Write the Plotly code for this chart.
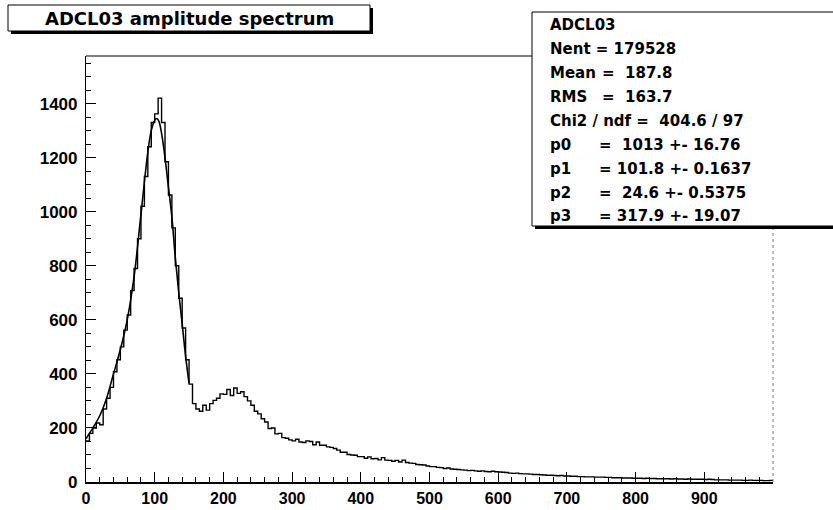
import numpy as np
import plotly.graph_objects as go

# ---------------- data ----------------
BIN_START = 0
BIN_WIDTH = 5
counts = [
    152, 180, 200, 218, 212, 270, 310, 350, 408, 452,    # 0-45
    500, 562, 618, 708, 790, 900, 1020, 1130, 1240, 1330,  # 50-95
    1362, 1420, 1330, 1185, 1062, 940, 800, 680, 570, 452,  # 100-145
    362, 290, 270, 262, 284, 266, 290, 302, 310, 326,     # 150-195
    324, 342, 320, 348, 328, 334, 316, 300, 284, 262,     # 200-245
    252, 234, 222, 198, 200, 178, 180, 164, 162, 156,     # 250-295
    152, 158, 148, 146, 152, 150, 138, 148, 136, 136,     # 300-345
    130, 128, 124, 118, 110, 110, 102, 100, 99, 94,       # 350-395
    94, 88, 93, 86, 87, 82, 90, 81, 80, 77,               # 400-445
    80, 74, 81, 72, 70, 69, 65, 64, 63, 59,               # 450-495
    57, 57, 54, 53, 50, 52, 48, 47, 46, 45,               # 500-545
    44, 42, 43, 41, 40, 41, 39, 38, 40, 38,               # 550-595
    37, 36, 35, 33, 32, 33, 31, 30, 30, 29,               # 600-645
    28, 28, 27, 26, 25, 25, 24, 23, 24, 22,               # 650-695
    22, 21, 21, 20, 20, 19, 19, 19, 18, 18,               # 700-745
    18, 17, 17, 16, 16, 16, 15, 15, 15, 14,               # 750-795
    14, 14, 13, 14, 13, 13, 12, 12, 12, 12,               # 800-845
    11, 12, 11, 11, 10, 11, 10, 10, 10, 10,               # 850-895
    9, 10, 9, 8, 8, 8, 8, 7, 7, 7,                        # 900-945
    7, 6, 6, 7, 6, 6, 6, 5, 5, 6,                         # 950-995
]

fit_x = [0, 10, 20, 30, 40, 50, 60, 70, 80, 90, 95, 100, 103, 106, 110,
         115, 120, 125, 130, 135, 140, 145, 150]
fit_y = [160, 200, 245, 310, 400, 490, 600, 760, 990, 1220, 1300, 1338, 1345,
         1335, 1290, 1200, 1090, 980, 830, 700, 585, 465, 365]

x_tick_vals = [0, 100, 200, 300, 400, 500, 600, 700, 800, 900]
y_tick_vals = [0, 200, 400, 600, 800, 1000, 1200, 1400]

title_text = "ADCL03 amplitude spectrum"
stats_name = "ADCL03"
stats_rows = [
    ("Nent = 179528", ""),
    ("Mean", "=  187.8"),
    ("RMS", "=  163.7"),
    ("Chi2 / ndf =  404.6 / 97", ""),
    ("p0", "=  1013 +- 16.76"),
    ("p1", "= 101.8 +- 0.1637"),
    ("p2", "=  24.6 +- 0.5375"),
    ("p3", "= 317.9 +- 19.07"),
]

X_RANGE = [0, 1000]
Y_RANGE = [0, 1576]

# ---------------- layout geometry (pixels) ----------------
W, H = 833, 510
L, R, T, B = 86, 60, 56, 28
PW, PH = W - L - R, H - T - B


def px(x):
    return (x - L) / PW


def py(y):
    return (H - B - y) / PH


# step outline of histogram
edges = BIN_START + BIN_WIDTH * np.arange(len(counts) + 1)
hx = list(edges)
hy = list(counts) + [counts[-1]]

fig = go.Figure()
fig.add_trace(go.Scatter(x=hx, y=hy, mode="lines", line=dict(color="black", width=1.4, shape="hv"),
                         showlegend=False, hoverinfo="skip"))
fig.add_trace(go.Scatter(x=fit_x, y=fit_y, mode="lines",
                         line=dict(color="black", width=1.6, shape="spline"),
                         showlegend=False, hoverinfo="skip"))

tickfont = dict(family="Liberation Sans, Arial", size=17, color="black", weight="bold")
xtickfont = dict(family="Liberation Sans, Arial", size=16, color="black", weight="bold")

fig.update_xaxes(range=X_RANGE, tickvals=x_tick_vals, ticks="inside", ticklen=10, tickwidth=1,
                 tickcolor="black", showline=True, linecolor="black", linewidth=1.5,
                 showgrid=False, zeroline=False, tickfont=xtickfont, ticklabelstandoff=1,
                 minor=dict(dtick=20, ticks="inside", ticklen=5, tickcolor="black", showgrid=False))
fig.update_yaxes(range=Y_RANGE, tickvals=y_tick_vals, ticks="inside", ticklen=10, tickwidth=1,
                 tickcolor="black", showline=True, linecolor="black", linewidth=1.2,
                 showgrid=False, zeroline=False, tickfont=tickfont, ticklabelstandoff=4,
                 minor=dict(dtick=50, ticks="inside", ticklen=5, tickcolor="black", showgrid=False))

shapes = []
# top frame and dotted right frame
shapes.append(dict(type="line", xref="paper", yref="paper", x0=0, x1=1, y0=1, y1=1,
                   line=dict(color="black", width=1)))
shapes.append(dict(type="line", xref="paper", yref="paper", x0=1, x1=1, y0=0, y1=1,
                   line=dict(color="#777777", width=1, dash="dot")))

# title box with shadow
shapes.append(dict(type="rect", xref="paper", yref="paper", x0=px(11), x1=px(373), y0=py(34), y1=py(8),
                   fillcolor="black", line=dict(width=0)))
shapes.append(dict(type="rect", xref="paper", yref="paper", x0=px(8), x1=px(370), y0=py(31), y1=py(5),
                   fillcolor="white", line=dict(color="black", width=1)))

# stats box with shadow
shapes.append(dict(type="rect", xref="paper", yref="paper", x0=px(535), x1=px(845), y0=py(229), y1=py(15),
                   fillcolor="black", line=dict(width=0)))
shapes.append(dict(type="rect", xref="paper", yref="paper", x0=px(532), x1=px(842), y0=py(226), y1=py(12),
                   fillcolor="white", line=dict(color="black", width=1)))

annotations = []
annotations.append(dict(text=title_text, xref="paper", yref="paper", x=px(189), y=py(18),
                        xanchor="center", yanchor="middle", showarrow=False,
                        font=dict(family="DejaVu Sans", size=18, color="black", weight="bold")))

sfont = dict(family="DejaVu Sans", size=15, color="black", weight="bold")
line_y = [25, 49, 73, 97, 121, 145, 169, 193, 216]
annotations.append(dict(text=stats_name, xref="paper", yref="paper", x=px(548), y=py(line_y[0]),
                        xanchor="left", yanchor="middle", showarrow=False, font=sfont))
for i, (a, b) in enumerate(stats_rows):
    yy = py(line_y[i + 1])
    annotations.append(dict(text=a, xref="paper", yref="paper", x=px(548), y=yy,
                            xanchor="left", yanchor="middle", showarrow=False, font=sfont))
    if b:
        xb = 600 if a in ("Mean", "RMS") else 597
        annotations.append(dict(text=b, xref="paper", yref="paper", x=px(xb), y=yy,
                                xanchor="left", yanchor="middle", showarrow=False, font=sfont))

fig.update_layout(width=W, height=H, margin=dict(l=L, r=R, t=T, b=B, autoexpand=False),
                  paper_bgcolor="white", plot_bgcolor="white",
                  shapes=shapes, annotations=annotations)

fig.write_html("out.html")
